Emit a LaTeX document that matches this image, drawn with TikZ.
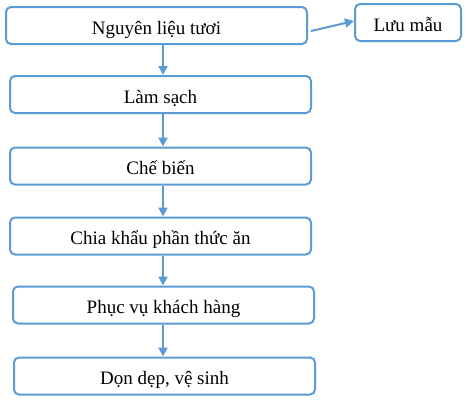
\documentclass[tikz,border=0pt]{standalone}
\usepackage{fontspec}
\setmainfont{Liberation Serif}
\usetikzlibrary{arrows.meta}
\definecolor{bl}{HTML}{5B9BD5}
\begin{document}
\begin{tikzpicture}[x=1pt,y=-1pt,
  box/.style={draw=bl,line width=2pt,rounded corners=5pt,inner sep=0pt,
    text height=17pt,text depth=0pt,
    font=\fontsize{19}{21}\selectfont},
  arr/.style={draw=bl,line width=2pt,-{Triangle[length=9pt,width=9pt]}}]
\useasboundingbox (0,0) rectangle (468,400);
\node[box,minimum width=301pt,minimum height=37pt] (b1) at (156.5,25.5) {Nguyên liệu tươi};
\node[box,minimum width=106pt,minimum height=37pt] (lm) at (408,22.5) {Lưu mẫu};
\node[box,minimum width=301pt,minimum height=37pt] (b2) at (160.5,94.5) {Làm sạch};
\node[box,minimum width=301pt,minimum height=37pt] (b3) at (160.5,166) {Chế biến};
\node[box,minimum width=301pt,minimum height=37pt] (b4) at (160.5,236) {Chia khẩu phần thức ăn};
\node[box,minimum width=301pt,minimum height=37pt] (b5) at (163.5,305) {Phục vụ khách hàng};
\node[box,minimum width=301pt,minimum height=37pt] (b6) at (164.5,376) {Dọn dẹp, vệ sinh};
\coordinate (xl) at (163,0);
\coordinate (s1) at (311,31);
\draw[arr] (b1.south -| xl) -- (b2.north -| xl);
\draw[arr] (b2.south -| xl) -- (b3.north -| xl);
\draw[arr] (b3.south -| xl) -- (b4.north -| xl);
\draw[arr] (b4.south -| xl) -- (b5.north -| xl);
\draw[arr] (b5.south -| xl) -- (b6.north -| xl);
\draw[arr] (s1) -- ([yshift=1.5pt]lm.west);
\end{tikzpicture}
\end{document}
